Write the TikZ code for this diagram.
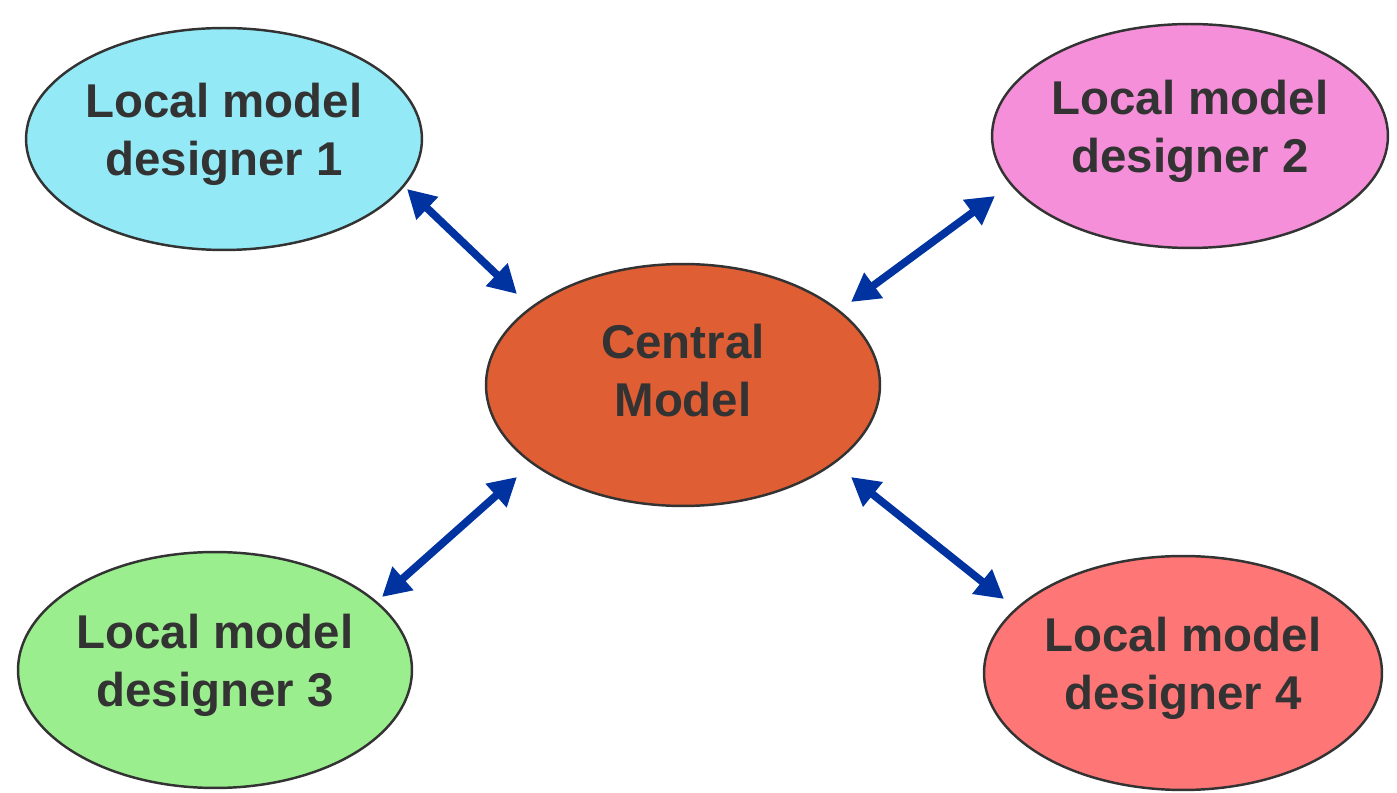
\documentclass[tikz,border=0pt]{standalone}
\usepackage{fontspec}
\setmainfont{Liberation Sans}
\usetikzlibrary{shapes.geometric,arrows.meta}
\definecolor{txt}{HTML}{333333}
\definecolor{rim}{HTML}{333333}
\definecolor{arrowblue}{HTML}{0033A0}
\definecolor{cyanfill}{HTML}{93E9F5}
\definecolor{pinkfill}{HTML}{F68FD9}
\definecolor{orangefill}{HTML}{E05E33}
\definecolor{greenfill}{HTML}{9BEE8E}
\definecolor{redfill}{HTML}{FF7676}
\tikzset{
  blob/.style={ellipse, draw=rim, line width=1.4pt, inner sep=0pt,
    outer sep=0pt, text=txt, align=center,
    font=\fontsize{27}{33}\selectfont\bfseries},
  label box/.style={text width=5.2cm, align=center},
  link/.style={draw=arrowblue, line width=4.4pt,
    {Triangle[length=16pt,width=17pt]}-{Triangle[length=16pt,width=17pt]}}
}
\begin{document}
\begin{tikzpicture}[x=0.02cm,y=-0.02cm]
  \useasboundingbox (0,0) rectangle (1397,793);
  % the four local designers and the shared model
  \node[blob, fill=cyanfill, minimum width=7.92cm, minimum height=4.44cm] (d1) at (224,139) {Local model\\designer 1\\[-0.8em]};
  \node[blob, fill=pinkfill, minimum width=7.92cm, minimum height=4.48cm] (d2) at (1190,136) {Local model\\designer 2\\[-0.8em]};
  \node[blob, fill=orangefill, minimum width=7.88cm, minimum height=4.84cm] (cm) at (683,385) {Central\\Model\\[-0.6em]};
  \node[blob, fill=greenfill, minimum width=7.88cm, minimum height=4.72cm] (d3) at (215,670) {Local model\\designer 3\\[-0.8em]};
  \node[blob, fill=redfill, minimum width=7.96cm, minimum height=4.68cm] (d4) at (1183,673) {Local model\\designer 4\\[-0.8em]};
  % arrow end points beside each ellipse
  \coordinate (a1) at (407,189);  \coordinate (b1) at (517,294);
  \coordinate (a2) at (995,196);  \coordinate (b2) at (851,302);
  \coordinate (a3) at (382,597);  \coordinate (b3) at (517,477);
  \coordinate (a4) at (1004,599); \coordinate (b4) at (851,477);
  % two-way links
  \draw[link] (a1) -- (b1);
  \draw[link] (a2) -- (b2);
  \draw[link] (a3) -- (b3);
  \draw[link] (a4) -- (b4);
\end{tikzpicture}
\end{document}
